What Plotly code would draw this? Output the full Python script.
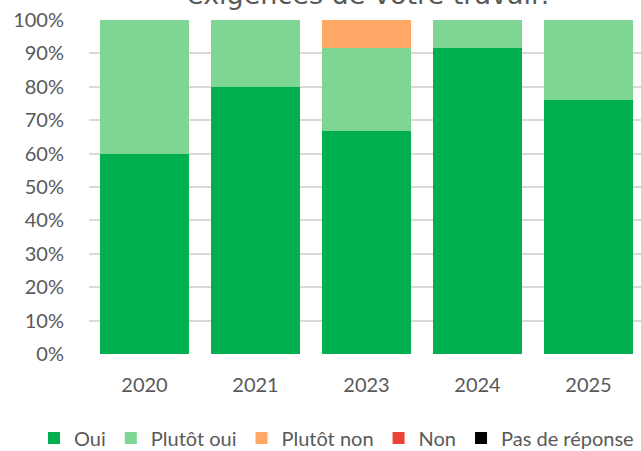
import plotly.graph_objects as go

years = ["2020", "2021", "2023", "2024", "2025"]
series_names = ["Oui", "Plutôt oui", "Plutôt non", "Non", "Pas de réponse"]
oui = [60.0, 80.0, 66.7, 91.7, 76.0]
plutot_oui = [40.0, 20.0, 25.0, 8.3, 24.0]
plutot_non = [0.0, 0.0, 8.3, 0.0, 0.0]
non = [0.0, 0.0, 0.0, 0.0, 0.0]
pas_de_reponse = [0.0, 0.0, 0.0, 0.0, 0.0]
y_ticks = [0, 10, 20, 30, 40, 50, 60, 70, 80, 90, 100]
title_text = "exigences de votre travail?"

colors = ["#00B050", "#7DD694", "#FFA764", "#EA4335", "#000000"]
values = [oui, plutot_oui, plutot_non, non, pas_de_reponse]

fig = go.Figure()
for name, vals, col in zip(series_names, values, colors):
    fig.add_trace(go.Bar(x=years, y=vals, name=name, marker=dict(color=col, line=dict(width=0))))

PLOT_W, PLOT_H = 552, 334
font_main = "Lato, 'Open Sans', sans-serif"
fig.update_layout(
    barmode="stack",
    bargap=0.2,
    width=641, height=451,
    margin=dict(l=89, r=0, t=20, b=97, autoexpand=False),
    paper_bgcolor="white", plot_bgcolor="white",
    font=dict(family=font_main, size=20, color="#595959"),
    showlegend=True,
    legend=dict(orientation="h", xref="paper", x=(34 - 89) / PLOT_W, xanchor="left",
                yref="paper", y=(354 - 438) / PLOT_H, yanchor="middle",
                font=dict(size=20, color="#595959"), traceorder="normal",
                itemwidth=30, bgcolor="rgba(0,0,0,0)"),
    xaxis=dict(type="category", range=[-0.5, 4.473], showgrid=False, zeroline=False,
               showline=False, ticks="outside", ticklen=13, tickcolor="rgba(0,0,0,0)",
               tickfont=dict(size=20, color="#595959")),
    yaxis=dict(range=[0, 100], tickvals=y_ticks, ticktext=[f"{v}%" for v in y_ticks],
               showgrid=True, gridcolor="#D9D9D9", gridwidth=1.5, zeroline=False,
               showline=False, ticks="outside", ticklen=20, tickcolor="rgba(0,0,0,0)",
               tickfont=dict(size=20, color="#595959")),
    annotations=[dict(text=title_text, xref="paper", x=(369.5 - 89) / PLOT_W, xanchor="center",
                      yref="paper", y=(354 + 5) / PLOT_H, yanchor="middle", showarrow=False,
                      font=dict(family="DejaVu Sans", size=27, color="#595959"))],
)

fig.write_html("out.html", config={"displayModeBar": False},
               post_script="document.body.style.margin='0';document.body.style.padding='0';")
